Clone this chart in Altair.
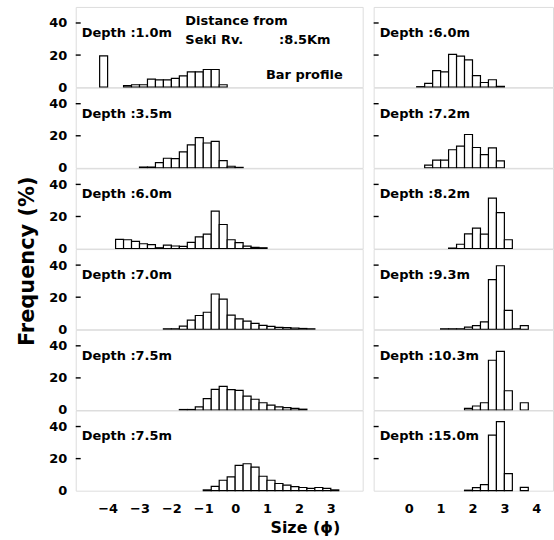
import altair as alt
import pandas as pd

BIN = 0.25  # class width in phi units

Y_TICKS = [0, 20, 40]
INNER_TICKS = [20, 40]
LEFT_XTICKS = [-4, -3, -2, -1, 0, 1, 2, 3]
RIGHT_XTICKS = [0, 1, 2, 3, 4]

left_labels = ["Depth :1.0m", "Depth :3.5m", "Depth :6.0m",
               "Depth :7.0m", "Depth :7.5m", "Depth :7.5m"]
right_labels = ["Depth :6.0m", "Depth :7.2m", "Depth :8.2m",
                "Depth :9.3m", "Depth :10.3m", "Depth :15.0m"]

# left edge of first class and frequencies (%) of consecutive 0.25-phi classes
L1_start = -4.25
L1_freq = [19.5, 0, 0, 1.0, 1.5, 1.5, 5.0, 4.5, 4.5, 5.5, 7.0, 9.5, 9.5, 11.0, 11.0, 1.5]
L2_start = -3.0
L2_freq = [0.5, 0.5, 3.3, 6.0, 5.8, 10.0, 14.3, 18.8, 15.5, 16.5, 4.5, 1.0, 0.3]
L3_start = -3.75
L3_freq = [5.7, 5.5, 4.5, 3.0, 2.4, 0.5, 2.2, 1.6, 1.4, 3.9, 7.3, 9.0, 23.3, 15.0, 5.5, 3.7, 1.5, 0.8, 0.5]
L4_start = -2.25
L4_freq = [0.3, 0.3, 2.0, 5.7, 8.6, 10.6, 22.0, 18.8, 8.8, 6.5, 5.1, 3.7, 2.4, 1.8, 1.2, 1.0, 0.8, 0.5, 0.3]
L5_start = -1.75
L5_freq = [0.3, 0.3, 2.0, 7.1, 12.9, 14.7, 12.7, 12.2, 8.6, 6.7, 4.5, 3.0, 2.0, 1.5, 1.0, 0.5]
L6_start = -1.0
L6_freq = [0.5, 2.7, 6.5, 8.6, 15.8, 16.8, 14.7, 9.0, 6.5, 4.5, 3.5, 2.5, 2.0, 1.5, 2.0, 1.5, 0.5]

R1_start = 0.25
R1_freq = [0.3, 2.3, 10.3, 9.5, 20.4, 19.4, 17.0, 7.2, 2.9, 4.6, 0.5]
R2_start = 0.5
R2_freq = [1.7, 4.8, 4.8, 11.3, 13.5, 20.8, 12.7, 8.3, 12.5, 4.4]
R3_start = 1.25
R3_freq = [0.3, 2.7, 9.2, 12.7, 9.0, 31.4, 22.4, 5.5]
R4_start = 1.0
R4_freq = [0.3, 0.3, 0.3, 1.3, 2.3, 4.6, 31.0, 39.6, 11.8, 0.3, 2.3]
R5_start = 1.75
R5_freq = [1.0, 2.5, 4.5, 31.0, 36.5, 12.0, 0, 4.5]
R6_start = 1.75
R6_freq = [0.3, 1.9, 3.8, 34.7, 43.0, 10.7, 0, 2.1]

left_series = [(L1_start, L1_freq), (L2_start, L2_freq), (L3_start, L3_freq),
               (L4_start, L4_freq), (L5_start, L5_freq), (L6_start, L6_freq)]
right_series = [(R1_start, R1_freq), (R2_start, R2_freq), (R3_start, R3_freq),
                (R4_start, R4_freq), (R5_start, R5_freq), (R6_start, R6_freq)]

FONT = "DejaVu Sans"
LEFT_W, RIGHT_W, PANEL_H = 288, 180, 80.5
LEFT_DOMAIN = [-5.0, 4.0]
RIGHT_DOMAIN = [-1.1, 4.525]


def panel(label, start, freqs, domain, width, show_ylabels, show_x, xticks, extra=None):
    df = pd.DataFrame({"x0": [start + i * BIN for i in range(len(freqs))], "freq": freqs})
    df["x1"] = df["x0"] + BIN
    df["base"] = 0.0
    df = df[df["freq"] > 0]
    xscale = alt.Scale(domain=domain, nice=False, zero=False)
    yscale = alt.Scale(domain=[0, 50], nice=False)
    if show_x:
        xaxis = alt.Axis(values=xticks, title=None, ticks=False, domain=False, grid=False,
                         labelFontSize=13, labelFont=FONT, labelFontWeight="bold",
                         labelPadding=12, labelColor="black", format="d")
    else:
        xaxis = None
    if show_ylabels:
        yaxis = alt.Axis(values=Y_TICKS, title=None, ticks=False, domain=False, grid=False,
                         labelFontSize=13, labelFont=FONT, labelFontWeight="bold",
                         labelPadding=9, labelColor="black")
    else:
        yaxis = None
    bars = alt.Chart(df).mark_rect(fill="white", stroke="black", strokeWidth=1.2).encode(
        x=alt.X("x0:Q", scale=xscale, axis=xaxis),
        x2="x1",
        y=alt.Y("freq:Q", scale=yscale, axis=yaxis),
        y2="base",
    )
    ticks = alt.Chart(pd.DataFrame({"freq": INNER_TICKS})).mark_rule(
        color="black", strokeWidth=1.4).encode(
        y=alt.Y("freq:Q", scale=yscale, axis=yaxis),
        x=alt.value(0), x2=alt.value(5),
    )
    txt = alt.Chart(pd.DataFrame({"label": [label]})).mark_text(
        align="left", baseline="middle", fontSize=13, font=FONT, fontWeight="bold",
        color="black").encode(
        text="label:N", x=alt.value(6), y=alt.value(26))
    layers = [bars, ticks, txt]
    if extra:
        layers += extra
    return alt.layer(*layers).properties(width=width, height=PANEL_H)


def note(s, x, y, align="left"):
    return alt.Chart(pd.DataFrame({"s": [s]})).mark_text(
        align=align, baseline="middle", fontSize=13, font=FONT, fontWeight="bold",
        color="black").encode(
        text="s:N", x=alt.value(x), y=alt.value(y))


extra_first = [note("Distance from", 110, 14), note("Seki Rv.", 110, 33),
               note(":8.5Km", 204, 33), note("Bar profile", 268, 68, align="right")]

left_panels = []
for i, (lab, (st, fr)) in enumerate(zip(left_labels, left_series)):
    left_panels.append(panel(lab, st, fr, LEFT_DOMAIN, LEFT_W, True, i == 5, LEFT_XTICKS,
                             extra_first if i == 0 else None))
right_panels = []
for i, (lab, (st, fr)) in enumerate(zip(right_labels, right_series)):
    right_panels.append(panel(lab, st, fr, RIGHT_DOMAIN, RIGHT_W, False, i == 5, RIGHT_XTICKS))

left_col = alt.vconcat(*left_panels, spacing=0, bounds="flush").properties(
    title=alt.TitleParams("Frequency (%)", orient="left", anchor="middle", fontSize=21,
                          font=FONT, fontWeight="bold", color="black", offset=10))
right_col = alt.vconcat(*right_panels, spacing=0, bounds="flush")

chart = alt.hconcat(left_col, right_col, spacing=8).properties(
    padding={"left": 17, "top": 5, "right": 0, "bottom": 0},
    title=alt.TitleParams("Size (ϕ)", orient="bottom", anchor="middle", fontSize=16,
                          font=FONT, fontWeight="bold", color="black", offset=4, dx=20),
).configure_view(stroke="black", strokeWidth=1.6).configure(background="white")

chart.save("out.html", embed_options={"renderer": "svg", "actions": False})
